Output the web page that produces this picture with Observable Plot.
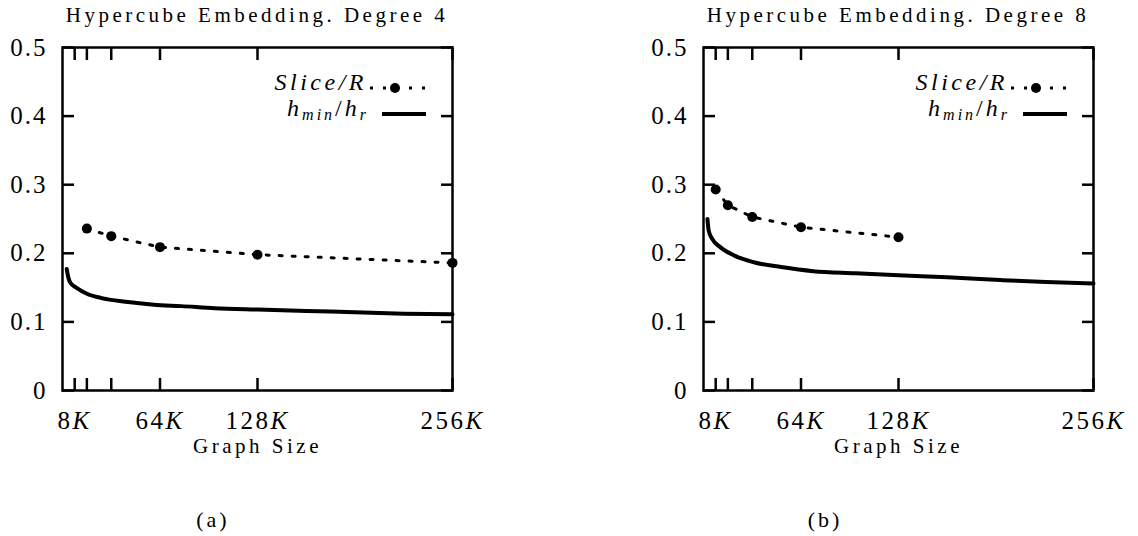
<!DOCTYPE html>
<html><head><meta charset="utf-8">
<script src="https://cdn.jsdelivr.net/npm/d3@7"></script>
<script src="https://cdn.jsdelivr.net/npm/@observablehq/plot@0.6"></script>
<style>
body { margin:0; background:#fff; }
#wrap { position:relative; width:1138px; height:536px; font-family:'Liberation Serif', 'Times New Roman', serif; color:#000; overflow:hidden; }
.panel { position:absolute; top:0; }
.title { height:30px; line-height:30px; font-size:21px; letter-spacing:3.5px; text-align:center; white-space:nowrap; margin-left:62px; width:390px; }
.caption { position:absolute; top:505px; width:100px; text-align:center; font-size:22px; line-height:30px; letter-spacing:3px; }
svg g[aria-label="x-axis label"] { font-size:21px; letter-spacing:3.5px; }
svg g[aria-label="y-axis tick label"] { letter-spacing:2px; }
svg g[aria-label="x-axis tick label"] { letter-spacing:2.5px; }
</style></head>
<body><div id="wrap"></div>
<script>
// ---- data ----
const xTicks = [8, 16, 32, 64, 128, 256];          // graph size, in K
const xTickLabels = ["8K", "", "", "64K", "128K", "256K"];
const yTicks = [0, 0.1, 0.2, 0.3, 0.4, 0.5];
const yTickLabels = ["0", "0.1", "0.2", "0.3", "0.4", "0.5"];
const titles = ["Hypercube Embedding. Degree 4", "Hypercube Embedding. Degree 8"];
const captions = ["(a)", "(b)"];
const xLabel = "Graph Size";

// Degree 4
const sliceXA = [16, 32, 64, 128, 256];
const sliceYA = [0.236, 0.225, 0.209, 0.198, 0.186];
const hXA = [2.8, 3.5, 4.5, 6, 9, 16, 25, 43, 60, 78, 100, 128, 160, 192, 224, 256];
const hYA = [0.177, 0.168, 0.160, 0.155, 0.150, 0.141, 0.135, 0.129, 0.125, 0.123, 0.120, 0.118, 0.116, 0.114, 0.112, 0.111];

// Degree 8
const sliceXB = [8, 16, 32, 64, 128];
const sliceYB = [0.293, 0.270, 0.253, 0.238, 0.2235];
const hXB = [2.6, 3.4, 5.7, 11, 20, 33, 51, 72, 100, 128, 160, 195, 225, 256];
const hYB = [0.250, 0.233, 0.221, 0.209, 0.197, 0.187, 0.180, 0.174, 0.171, 0.168, 0.165, 0.161, 0.158, 0.156];

// ---- layout ----
const FONT = "'Liberation Serif', 'Times New Roman', serif";
const W = 492, M = {top: 17, right: 40, bottom: 75, left: 62}, H = 17 + 343 + 75;
const panels = [
  {left: 0, title: titles[0], caption: captions[0], capX: 213, sx: sliceXA, sy: sliceYA, hx: hXA, hy: hYA},
  {left: 641, title: titles[1], caption: captions[1], capX: 825, sx: sliceXB, sy: sliceYB, hx: hXB, hy: hYB}
];
const xLab = new Map(xTicks.map((t, i) => [t, xTickLabels[i]]));
const yLab = new Map(yTicks.map((t, i) => [t, yTickLabels[i]]));
const wrap = document.getElementById("wrap");

for (const p of panels) {
  const slice = p.sx.map((x, i) => ({x, y: p.sy[i]}));
  const h = p.hx.map((x, i) => ({x, y: p.hy[i]}));
  const div = document.createElement("div");
  div.className = "panel";
  div.style.left = p.left + "px";
  const t = document.createElement("div");
  t.className = "title";
  t.textContent = p.title;
  div.appendChild(t);

  const svg = Plot.plot({
    width: W, height: H,
    marginTop: M.top, marginRight: M.right, marginBottom: M.bottom, marginLeft: M.left,
    style: {fontFamily: FONT, fontSize: "25px", background: "transparent", overflow: "visible"},
    x: {domain: [0, 256]},
    y: {domain: [0, 0.5]},
    marks: [
      Plot.axisY({ticks: yTicks, tickSize: -12, tickFormat: () => null, strokeWidth: 2.5, label: null}),
      Plot.axisY({anchor: "right", ticks: yTicks, tickSize: -12, tickFormat: () => null, strokeWidth: 2.5, label: null}),
      Plot.axisY({ticks: yTicks, tickSize: 0, tickPadding: 15, tickFormat: d => yLab.get(d), label: null}),
      Plot.axisX({anchor: "top", ticks: xTicks, tickSize: -12, tickFormat: () => null, strokeWidth: 2.5, label: null}),
      Plot.axisX({anchor: "bottom", ticks: xTicks, tickSize: -12, tickFormat: () => null, strokeWidth: 2.5, label: null}),
      Plot.axisX({anchor: "bottom", ticks: xTicks, tickSize: 0, tickPadding: 21, tickFormat: d => xLab.get(d),
                  label: xLabel, labelAnchor: "center", labelOffset: 62, labelArrow: "none"}),
      Plot.line(h, {x: "x", y: "y", stroke: "black", strokeWidth: 4, curve: "monotone-x"}),
      Plot.line(slice, {x: "x", y: "y", stroke: "black", strokeWidth: 3, strokeDasharray: "3,10"}),
      Plot.dot(slice, {x: "x", y: "y", r: 5, fill: "black"}),
      Plot.frame({stroke: "black", strokeWidth: 2.5})
    ]
  });

  // italic K on x tick labels
  d3.select(svg).selectAll('g[aria-label="x-axis tick label"] text').each(function () {
    const s = this.textContent;
    if (s.endsWith("K")) {
      const el = d3.select(this);
      el.text(null);
      el.append("tspan").text(s.slice(0, -1));
      el.append("tspan").attr("font-style", "italic").text("K");
    }
  });

  // legend (inside frame, top right)
  const fr = W - M.right, ft = M.top;
  const g = d3.select(svg).append("g").attr("aria-label", "legend").attr("font-family", FONT);
  g.append("text").attr("x", fr - 85).attr("y", ft + 43).attr("text-anchor", "end")
    .attr("font-size", 24).attr("letter-spacing", 3.5).attr("font-style", "italic").text("Slice/R");
  g.append("line").attr("x1", fr - 82).attr("x2", fr - 24).attr("y1", ft + 41).attr("y2", ft + 41)
    .attr("stroke", "black").attr("stroke-width", 3).attr("stroke-dasharray", "3,10");
  g.append("circle").attr("cx", fr - 57).attr("cy", ft + 41).attr("r", 5).attr("fill", "black");
  const t2 = g.append("text").attr("x", fr - 83).attr("y", ft + 69).attr("text-anchor", "end")
    .attr("font-size", 24).attr("letter-spacing", 3).attr("font-style", "italic");
  t2.append("tspan").text("h");
  t2.append("tspan").attr("font-size", 16).attr("dy", 4).text("min");
  t2.append("tspan").attr("dy", -4).attr("font-style", "normal").text("/");
  t2.append("tspan").text("h");
  t2.append("tspan").attr("font-size", 16).attr("dy", 4).text("r");
  g.append("line").attr("x1", fr - 70).attr("x2", fr - 26).attr("y1", ft + 67).attr("y2", ft + 67)
    .attr("stroke", "black").attr("stroke-width", 4);

  div.appendChild(svg);
  wrap.appendChild(div);

  const c = document.createElement("div");
  c.className = "caption";
  c.style.left = (p.capX - 50) + "px";
  c.textContent = p.caption;
  wrap.appendChild(c);
}
</script>
</body></html>
